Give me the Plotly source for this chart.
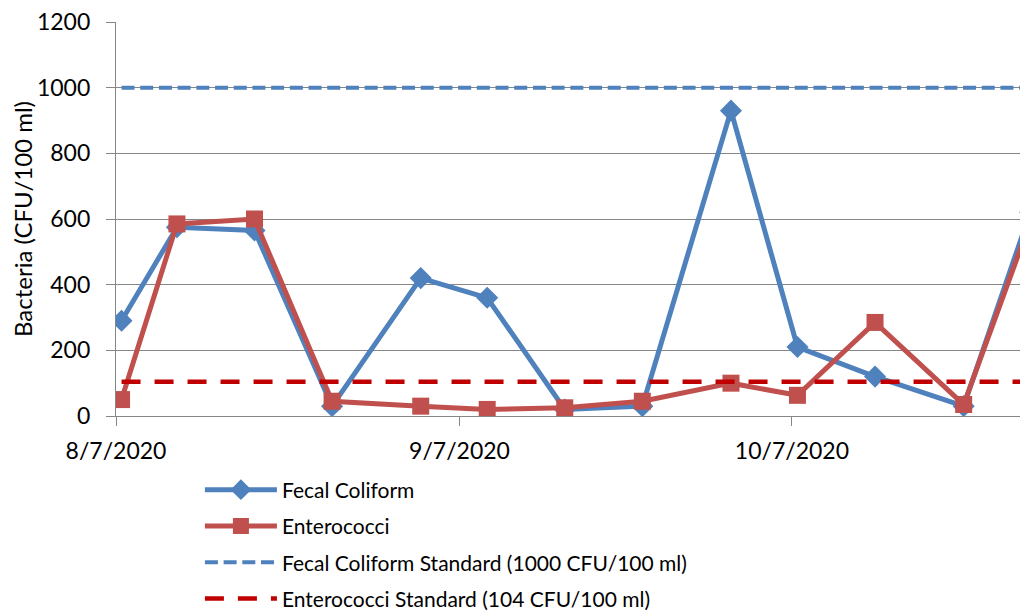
import plotly.graph_objects as go
import pandas as pd

# ---- data ----
sample_dates = ["2020-08-07", "2020-08-12", "2020-08-19", "2020-08-26", "2020-09-03",
                "2020-09-09", "2020-09-16", "2020-09-23", "2020-10-01", "2020-10-07",
                "2020-10-14", "2020-10-22", "2020-10-28"]
fecal_coliform = [290, 575, 565, 30, 420, 360, 20, 30, 930, 210, 120, 30, 620]
enterococci = [50, 585, 600, 45, 30, 20, 25, 45, 100, 63, 285, 35, 590]
fecal_standard_value = 1000
entero_standard_value = 104
y_ticks = [0, 200, 400, 600, 800, 1000, 1200]
x_tick_dates = ["2020-08-07", "2020-09-07", "2020-10-07"]
x_tick_labels = ["8/7/2020", "9/7/2020", "10/7/2020"]
y_title = "Bacteria (CFU/100 ml)"
axis_start = "2020-08-07"
axis_end = "2020-10-27 14:00"

# Excel date axis places points in the middle of each day
x = pd.to_datetime(sample_dates) + pd.Timedelta(hours=12)

FONT = "Lato, 'Open Sans', sans-serif"
BLUE = "#4F81BD"
RED = "#C0504D"
DARKRED = "#C00000"

fig = go.Figure()
fig.add_trace(go.Scatter(
    x=x, y=fecal_coliform, name="Fecal Coliform", mode="lines+markers",
    line=dict(color=BLUE, width=5),
    marker=dict(symbol="diamond", size=17, color=BLUE),
    legendgroup="a", cliponaxis=True))
fig.add_trace(go.Scatter(
    x=x, y=enterococci, name="Enterococci", mode="lines+markers",
    line=dict(color=RED, width=5),
    marker=dict(symbol="square", size=17, color=RED),
    legendgroup="b", cliponaxis=True))
fig.add_trace(go.Scatter(
    x=x, y=[fecal_standard_value] * len(sample_dates),
    name="Fecal Coliform Standard (1000 CFU/100 ml)", mode="lines",
    line=dict(color=BLUE, width=4, dash="13px,5.7px"), legendgroup="c"))
fig.add_trace(go.Scatter(
    x=x, y=[entero_standard_value] * len(sample_dates),
    name="Enterococci Standard (104 CFU/100 ml)", mode="lines",
    line=dict(color=DARKRED, width=4.5, dash="19px,14px"), legendgroup="d"))

fig.update_layout(
    width=1020, height=613,
    margin=dict(l=116, r=0, t=22, b=197, autoexpand=False),
    paper_bgcolor="white", plot_bgcolor="white",
    font=dict(family=FONT, size=23, color="#000000"),
    showlegend=True,
    legend=dict(x=0.196, y=0.234, xref="container", yref="container",
                xanchor="left", yanchor="top",
                font=dict(family=FONT, size=21, color="#000000"),
                tracegroupgap=6, bgcolor="rgba(0,0,0,0)", itemwidth=72),
    annotations=[dict(text=y_title, xref="paper", yref="paper",
                      x=-0.104, y=0.5, xanchor="center", yanchor="middle",
                      textangle=-90, showarrow=False,
                      font=dict(family=FONT, size=24, color="#000000"))],
)
fig.update_xaxes(
    type="date", range=[axis_start, axis_end],
    tickvals=pd.to_datetime(x_tick_dates), ticktext=x_tick_labels,
    ticks="outside", ticklen=9, tickcolor="#868686", tickwidth=1.3,
    showgrid=False, showline=True, linecolor="#868686", linewidth=1.3,
    tickfont=dict(family=FONT, size=23), zeroline=False, ticklabelstandoff=5,
    automargin=False)
fig.update_yaxes(
    range=[0, 1200], tickvals=y_ticks,
    ticks="outside", ticklen=9, tickcolor="#868686", tickwidth=1.3,
    showgrid=True, gridcolor="#868686", gridwidth=1.3,
    showline=True, linecolor="#868686", linewidth=1.3, zeroline=False,
    tickfont=dict(family=FONT, size=23), ticklabelstandoff=11, automargin=False)

fig.write_html("out.html", config={"displayModeBar": False},
               post_script="document.body.style.margin='0';document.body.style.overflow='hidden';")
